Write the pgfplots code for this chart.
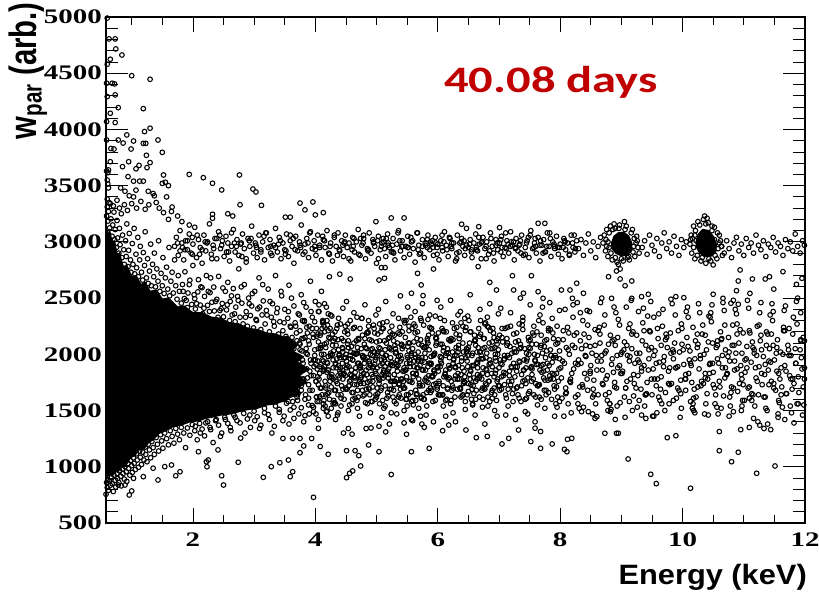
\documentclass[border=0pt]{standalone}
\usepackage{graphicx}
\usepackage{fontspec}
\setmainfont{Liberation Serif}
\newfontfamily\tickfont{Liberation Serif}[FakeStretch=1.4]
\newfontfamily\labfont{Liberation Sans}[FakeStretch=1.1]
\newfontfamily\ylabfont{Liberation Sans}
\newfontfamily\daysfont{Carlito}[FakeStretch=1.3]
\usepackage{pgfplots}
\pgfplotsset{compat=1.18}
\definecolor{dred}{HTML}{C00000}
\pgfplotsset{pts/.style={only marks, mark=o, mark size=1.75pt, mark options={line width=0.8pt, draw=black, fill=none}, forget plot}}
\begin{document}
\begin{tikzpicture}
\begin{axis}[
  scale only axis, width=524.25pt, height=379.5pt,
  xmin=0.58, xmax=12, ymin=500, ymax=5000,
  xtick={2,4,6,8,10,12}, minor xtick={1,1.5,...,11.5},
  ytick=\empty,
  tick align=inside, tick pos=both,
  major tick length=11.25pt, minor tick length=5.8pt,
  every tick/.style={black, line width=0.6pt},
  axis line style={line width=0.8pt},
  /pgf/number format/assume math mode=true,
  /pgf/number format/1000 sep={},
  scaled ticks=false,
  xticklabel style={font=\tickfont\bfseries\fontsize{15.5}{15.5}\selectfont, anchor=center, yshift=-12.75pt},
  xlabel={\labfont\bfseries\fontsize{21}{21}\selectfont Energy (keV)},
  xlabel style={at={(axis description cs:1.003,-0.107)}, anchor=east, inner sep=0pt},
  clip=true,
]
% dense core (fully overlapping markers)
\addplot[fill=black, draw=black, line width=1pt, forget plot] coordinates {(0.58,3150)(0.61,3060)(0.64,3100)(0.68,2990)(0.72,3010)(0.76,2880)(0.80,2900)(0.86,2780)(0.92,2790)(1.0,2690)(1.07,2700)(1.15,2620)(1.22,2640)(1.3,2560)(1.4,2570)(1.5,2490)(1.6,2500)(1.75,2420)(1.85,2430)(2.0,2370)(2.15,2370)(2.3,2330)(2.45,2320)(2.6,2280)(2.75,2270)(2.9,2230)(3.05,2220)(3.2,2190)(3.35,2180)(3.5,2150)(3.62,2130)(3.7,2080)(3.62,2030)(3.8,1980)(3.7,1930)(3.88,1870)(3.74,1810)(3.86,1750)(3.7,1700)(3.76,1650)(3.6,1620)(3.5,1590)(3.35,1560)(3.2,1550)(3.05,1520)(2.9,1510)(2.75,1490)(2.6,1470)(2.45,1460)(2.3,1440)(2.2,1430)(2.1,1410)(1.95,1400)(1.8,1370)(1.68,1360)(1.55,1320)(1.45,1300)(1.35,1240)(1.28,1220)(1.2,1160)(1.12,1150)(1.05,1100)(0.98,1080)(0.9,1010)(0.84,1000)(0.78,960)(0.72,950)(0.68,920)(0.63,925)(0.58,900)(0.58,3150)};
% clusters
\addplot[fill=black, draw=black, line width=1pt, forget plot] coordinates {(8.84,2990)(8.88,3050)(8.95,3080)(9.04,3085)(9.12,3050)(9.17,2990)(9.16,2920)(9.10,2885)(9.00,2875)(8.91,2900)(8.85,2940)(8.84,2990)};
\addplot[fill=black, draw=black, line width=1pt, forget plot] coordinates {(10.22,3000)(10.26,3070)(10.33,3110)(10.42,3100)(10.50,3050)(10.55,2980)(10.54,2910)(10.47,2875)(10.37,2870)(10.28,2900)(10.23,2950)(10.22,3000)};
% top-left sparse
\addplot[pts] coordinates {(0.60,4990)(0.63,4805)(0.73,4805)(0.74,4716)(0.84,4662)(0.65,4624)(0.60,4580)(1.00,4478)(1.30,4446)(0.59,4411)(0.68,4411)(0.72,4405)(0.60,4292)(0.73,4307)(0.78,4194)(1.19,4185)(0.65,4144)(0.59,4070)(0.73,4061)(1.21,3981)(1.30,4011)(0.92,3951)(0.59,3906)(0.78,3906)(1.03,3897)(1.43,3906)(0.86,3879)(1.19,3876)(1.23,3876)(0.66,3830)(0.71,3826)(0.99,3826)(1.50,3796)(1.24,3770)(0.65,3713)(0.85,3669)(0.95,3713)(1.30,3705)(0.59,3630)(0.62,3640)(0.61,3615)(1.07,3650)(1.12,3680)(1.25,3660)(1.52,3595)(1.94,3600)(2.17,3571)(2.32,3521)(2.47,3462)(2.76,3595)(2.98,3470)(3.03,3444)(0.60,3550)(0.61,3515)(0.62,3480)(0.94,3580)(1.03,3540)(1.07,3460)(1.13,3540)(1.19,3540)(1.50,3520)(1.55,3530)(1.60,3500)(0.82,3480)(0.89,3450)(0.96,3410)(1.03,3400)(1.27,3450)(1.35,3430)(1.37,3410)(1.57,3400)(1.66,3310)(1.65,3270)(1.94,3150)(2.77,3330)(3.12,3325)(3.75,3345)(3.83,3285)(3.96,3355)(3.51,3220)(3.59,3220)(4.00,3240)(4.13,3260)(2.32,3245)(2.32,3210)(2.57,3250)(2.65,3230)(0.60,3380)(0.63,3350)(0.70,3320)(0.76,3370)(0.80,3300)(0.88,3330)(0.93,3280)(1.00,3340)(1.08,3300)(1.15,3360)(1.22,3290)(1.28,3330)(1.40,3350)(1.45,3300)(1.52,3260)(1.75,3230)(1.60,3200)(1.82,3180)};
% upper fringe of core
\addplot[pts] coordinates {(0.59,3230)(0.60,3310)(0.61,3185)(0.62,3270)(0.64,3125)(0.65,3340)(0.66,3205)(0.68,3050)(0.69,3150)(0.71,3265)(0.72,3020)(0.73,3110)(0.75,2950)(0.76,3190)(0.77,3035)(0.79,2900)(0.80,3120)(0.81,2975)(0.83,3250)(0.84,2860)(0.85,3060)(0.87,2930)(0.88,2800)(0.90,3010)(0.91,2870)(0.92,3160)(0.94,2780)(0.95,2925)(0.96,3075)(0.98,2840)(0.99,2730)(1.01,2985)(1.02,2800)(1.04,3120)(1.05,2715)(1.07,2890)(1.08,2770)(1.10,3040)(1.11,2690)(1.13,2840)(1.14,2960)(1.16,2730)(1.18,2660)(1.19,2905)(1.21,2790)(1.22,3090)(1.24,2680)(1.26,2850)(1.27,2630)(1.29,2740)(1.31,2980)(1.32,2610)(1.34,2800)(1.36,2690)(1.37,2900)(1.39,2600)(1.41,2760)(1.43,2650)(1.44,3010)(1.46,2560)(1.48,2720)(1.50,2610)(1.51,2860)(1.53,2540)(1.55,2680)(1.57,2775)(1.59,2580)(1.61,2950)(1.62,2520)(1.64,2650)(1.66,2730)(1.68,2545)(1.70,2840)(1.72,2610)(1.74,2490)(1.76,2700)(1.78,2560)(1.79,2920)
(1.81,2455)(1.83,2621)(1.86,2496)(1.87,2734)(1.91,2416)(1.92,2545)(1.95,2659)(1.98,2444)(2.00,2790)(2.03,2495)(2.04,2403)(2.08,2555)(2.09,2664)(2.12,2438)(2.15,2593)(2.16,2361)(2.19,2515)(2.22,2700)(2.24,2436)(2.27,2381)(2.28,2549)(2.31,2463)(2.34,2598)(2.35,2386)(2.39,2489)(2.41,2330)(2.42,2693)(2.46,2406)(2.48,2452)(2.50,2334)(2.53,2560)(2.55,2395)(2.57,2640)(2.60,2300)(2.61,2470)(2.64,2350)(2.66,2585)(2.69,2290)(2.70,2420)(2.73,2515)(2.75,2760)(2.77,2330)(2.80,2455)(2.82,2270)(2.84,2620)(2.87,2380)(2.89,2250)(2.91,2500)(2.94,2345)(2.96,2430)(2.99,2235)(3.01,2560)(3.03,2310)(3.06,2405)(3.08,2680)(3.11,2220)(3.13,2350)(3.15,2475)(3.18,2270)(3.20,2390)(3.23,2580)(3.25,2200)(3.28,2330)(3.30,2450)(3.33,2250)(3.35,2700)(3.37,2370)(3.40,2180)(3.42,2290)(3.45,2520)(3.47,2210)(3.50,2400)(3.52,2160)(3.55,2320)(3.57,2615)(3.60,2240)(3.62,2150)(3.65,2430)(3.67,2280)(3.70,2120)(3.72,2360)(3.75,2210)(3.77,2530)(3.80,2140)(3.82,2290)(3.85,2420)(3.87,2190)(3.90,2250)(3.92,2650)(3.95,2330)(3.97,2150)(4.00,2470)(4.02,2230)(4.05,2380)(4.08,2170)(4.10,2560)(4.12,2300)(4.15,2200)(4.18,2420)(4.20,2260)(4.23,2690)(4.25,2350)(4.28,2180)
(1.84,2560)(1.89,2480)(1.94,2620)(2.02,2530)(2.06,2450)(2.13,2600)(2.18,2410)(2.25,2560)(2.29,2680)(2.37,2470)(2.44,2390)(2.49,2590)(2.56,2440)(2.63,2520)(2.68,2360)(2.74,2480)(2.79,2600)(2.86,2330)(2.92,2450)(2.97,2540)(3.04,2300)(3.09,2420)(3.14,2620)(3.21,2350)(3.26,2470)(3.32,2290)(3.38,2410)(3.44,2560)(3.49,2280)(3.56,2380)(3.61,2500)(3.68,2250)(3.74,2350)(3.81,2460)(3.86,2240)(3.93,2380)(3.99,2290)(4.06,2440)(4.14,2250)(4.21,2360)};
% lower fringe of core
\addplot[pts] coordinates {(0.59,860)(0.60,815)(0.61,885)(0.62,790)(0.64,870)(0.65,835)(0.67,905)(0.68,850)(0.70,780)(0.71,925)(0.73,880)(0.74,820)(0.76,940)(0.77,895)(0.79,860)(0.80,965)(0.82,915)(0.83,830)(0.85,980)(0.86,940)(0.88,890)(0.89,1000)(0.91,955)(0.92,870)(0.94,1030)(0.95,985)(0.97,925)(0.98,1055)(1.00,1010)(1.01,950)(1.03,1080)(1.04,1030)(1.06,975)(1.08,1115)(1.09,1060)(1.11,995)(1.13,1140)(1.14,1085)(1.16,1020)(1.18,1130)(1.20,1060)(1.22,1175)(1.23,1110)(1.25,1045)(1.27,1200)(1.29,1150)(1.31,1080)(1.33,1225)(1.35,1170)(1.37,1110)(1.40,1260)(1.42,1200)(1.44,1140)(1.47,1285)(1.49,1230)(1.51,1165)(1.54,1300)(1.57,1250)(1.60,1195)(1.63,1320)(1.66,1270)(1.69,1210)(1.72,1340)(1.75,1290)(1.78,1240)(1.81,1350)(1.85,1300)(1.88,1170)(1.91,1345)(1.95,1280)(1.99,1375)(2.03,1320)(2.07,1240)(2.11,1385)(2.15,1335)(2.19,1275)(2.24,1400)(2.28,1350)(2.33,1215)(2.38,1420)(2.42,1370)(2.47,1300)(2.52,1440)(2.57,1385)(2.62,1320)(2.67,1460)(2.72,1410)(2.78,1255)(2.83,1475)(2.89,1425)(2.94,1350)(3.00,1495)(3.05,1445)(3.11,1370)(3.17,1520)(3.23,1465)(3.29,1300)(3.35,1540)(3.41,1485)(3.47,1410)(3.53,1565)(3.59,1505)(3.65,1430)(3.71,1590)(3.77,1525)(3.83,1455)(3.89,1610)(3.95,1545)(4.01,1470)(4.07,1625)(4.13,1560)(4.19,1495)
(2.04,1360)(2.12,1300)(2.21,1390)(2.29,1330)(2.37,1410)(2.45,1270)(2.53,1420)(2.61,1350)(2.69,1440)(2.77,1390)(2.85,1300)(2.93,1460)(3.01,1410)(3.09,1340)(3.17,1480)(3.25,1420)(3.33,1360)(3.41,1510)(3.49,1450)(3.57,1380)(3.65,1530)(3.73,1470)(3.81,1400)(3.89,1550)(3.97,1490)(4.05,1420)(4.13,1520)(4.21,1450)(4.29,1560)(4.37,1480)};
% dense region 3-3.8
\addplot[pts] coordinates {(3.02,1620)(3.05,2080)(3.08,1750)(3.10,1950)(3.13,1580)(3.16,2150)(3.18,1830)(3.21,1680)(3.24,2020)(3.26,1900)(3.29,1600)(3.31,2110)(3.34,1760)(3.37,1980)(3.39,1650)(3.42,2060)(3.45,1840)(3.47,1600)(3.50,2130)(3.52,1920)(3.55,1700)(3.58,2010)(3.60,1790)(3.63,1660)(3.65,2090)(3.68,1880)(3.70,1620)(3.73,1970)(3.76,1750)(3.78,2140)(3.06,1870)(3.12,1700)(3.19,2000)(3.27,1760)(3.33,1880)(3.40,1720)(3.46,1990)(3.53,1810)(3.59,1900)(3.66,1740)(3.72,1840)(3.79,1950)(3.03,1780)(3.23,1810)(3.43,1930)(3.63,1860)(3.15,1950)(3.35,1640)(3.56,1580)(3.75,2040)};
% main band 3.7-5
\addplot[pts] coordinates {(3.71,1720)(3.72,1980)(3.74,2100)(3.75,1850)(3.77,1680)(3.78,2030)(3.80,1920)(3.81,1780)(3.83,2150)(3.84,1640)(3.86,1870)(3.87,2000)(3.89,1730)(3.90,2090)(3.92,1950)(3.93,1810)(3.95,1680)(3.96,2180)(3.98,1890)(3.99,2040)(4.01,1760)(4.02,1620)(4.04,1940)(4.05,2110)(4.07,1830)(4.08,1700)(4.10,2000)(4.11,2230)(4.13,1870)(4.14,1590)(4.16,1760)(4.17,2060)(4.19,1930)(4.20,1650)(4.22,2150)(4.23,1800)(4.25,1990)(4.26,1710)(4.28,2080)(4.29,1880)(4.31,1570)(4.32,2200)(4.34,1760)(4.35,1960)(4.37,1640)(4.38,2040)(4.40,1850)(4.41,2270)(4.43,1720)(4.44,1920)(4.46,2120)(4.47,1600)(4.49,1810)(4.50,2000)(4.52,1690)(4.53,2180)(4.55,1890)(4.56,1550)(4.58,1770)(4.59,2070)(4.61,1950)(4.62,1660)(4.64,2240)(4.65,1840)(4.67,2010)(4.68,1730)(4.70,1620)(4.71,2130)(4.73,1900)(4.74,1790)(4.76,2320)(4.77,1680)(4.79,1980)(4.80,2090)(4.82,1570)(4.83,1860)(4.85,1750)(4.86,2190)(4.88,1940)(4.89,1640)(4.91,2040)(4.92,1820)(4.94,1710)(4.95,2260)(4.97,1910)(4.98,1600)(5.00,2110)
(3.82,2300)(3.97,1530)(4.06,2380)(4.18,1490)(4.27,2340)(4.36,1460)(4.45,2410)(4.54,1500)(4.63,2370)(4.72,1450)(4.81,2440)(4.90,1480)(4.99,2350)(4.15,2450)(4.33,1420)(4.51,2470)(4.69,1520)(4.87,2300)(3.90,1470)(4.42,1540)
(3.74,1900)(3.79,1780)(3.85,2050)(3.91,1850)(3.97,1950)(4.03,1870)(4.09,2060)(4.15,1890)(4.21,1980)(4.27,1820)(4.33,1910)(4.39,2000)(4.45,1780)(4.51,1880)(4.57,1960)(4.63,1800)(4.69,1920)(4.75,1850)(4.81,1960)(4.87,1880)(4.93,1990)(4.99,1830)
(4.02,2160)(4.06,1580)(4.11,1950)(4.13,2290)(4.17,1700)(4.21,1860)(4.24,2140)(4.26,1520)(4.30,2030)(4.33,1680)(4.36,2260)(4.38,1900)(4.42,1610)(4.45,2050)(4.47,1830)(4.52,2210)(4.55,1720)(4.57,1990)(4.60,1560)(4.63,2100)(4.66,1880)(4.68,2330)(4.72,1760)(4.75,2050)(4.78,1630)(4.80,1920)(4.84,2190)(4.87,1700)(4.90,2000)(4.93,1580)(4.96,2230)(4.98,1850)};
% main band 5-8
\addplot[pts] coordinates {(5.01,1880)(5.02,1650)(5.04,2060)(5.05,1770)(5.07,2200)(5.08,1950)(5.10,1590)(5.11,1840)(5.13,2120)(5.14,1720)(5.16,1990)(5.17,2290)(5.19,1630)(5.20,1870)(5.22,2050)(5.23,1760)(5.25,1930)(5.26,2180)(5.28,1680)(5.29,1820)(5.31,2010)(5.32,1560)(5.34,2100)(5.35,1900)(5.37,1740)(5.38,2240)(5.40,1610)(5.41,1960)(5.43,1850)(5.44,2070)(5.46,1700)(5.47,2150)(5.49,1800)(5.50,1990)(5.52,1640)(5.53,2030)(5.55,1890)(5.56,2330)(5.58,1750)(5.59,1590)(5.61,2110)(5.62,1940)(5.64,1680)(5.65,1830)(5.67,2200)(5.68,2020)(5.70,1720)(5.71,1900)(5.73,1620)(5.74,2080)(5.76,1860)(5.77,2260)(5.79,1770)(5.80,1970)(5.82,1660)(5.83,2140)(5.85,1810)(5.86,2040)(5.88,1700)(5.89,1920)(5.91,2190)(5.92,1580)(5.94,1850)(5.95,2010)(5.97,1740)(5.98,2100)(6.00,1890)
(5.03,2400)(5.09,1440)(5.15,2470)(5.21,1380)(5.27,2360)(5.33,1470)(5.39,2520)(5.45,1500)(5.51,2420)(5.57,1420)(5.63,2380)(5.69,1520)(5.75,2450)(5.81,1460)(5.87,2350)(5.93,1400)(5.99,2480)(5.12,1520)(5.36,2320)(5.60,1550)(5.84,2310)(5.24,1480)(5.48,2300)(5.72,1450)(5.96,2340)
(5.06,1900)(5.12,1970)(5.18,1850)(5.30,1920)(5.42,1780)(5.54,1950)(5.66,1880)(5.78,1930)(5.90,1800)
(5.02,1990)(5.05,1560)(5.09,2230)(5.11,1790)(5.14,2040)(5.18,1660)(5.21,2150)(5.23,1910)(5.27,1620)(5.30,2080)(5.33,1780)(5.36,1980)(5.39,1690)(5.42,2200)(5.45,1880)(5.48,1600)(5.51,2070)(5.53,1760)(5.57,2010)(5.60,1830)(5.63,2250)(5.66,1650)(5.69,1970)(5.72,2130)(5.75,1720)(5.78,1600)(5.81,2070)(5.84,1890)(5.87,2240)(5.90,1680)(5.93,1990)(5.97,2150)
(6.02,1760)(6.04,2090)(6.06,1920)(6.08,1640)(6.10,2200)(6.12,1830)(6.14,2010)(6.16,1700)(6.18,2130)(6.20,1880)(6.22,1590)(6.24,2280)(6.26,1960)(6.28,1780)(6.30,2060)(6.32,1690)(6.34,1900)(6.36,2170)(6.38,1820)(6.40,1630)(6.42,2020)(6.44,1750)(6.46,2240)(6.48,1940)(6.50,1670)(6.52,2100)(6.54,1850)(6.56,1990)(6.58,1720)(6.60,2170)(6.62,1600)(6.64,1930)(6.66,2060)(6.68,1790)(6.70,2300)(6.72,1680)(6.74,1880)(6.76,2140)(6.78,1740)(6.80,2010)(6.82,1620)(6.84,1910)(6.86,2210)(6.88,1830)(6.90,2050)(6.92,1700)(6.94,1970)(6.96,2120)(6.98,1780)(7.00,1880)
(6.05,2420)(6.13,1450)(6.21,2480)(6.29,1400)(6.37,2380)(6.45,1510)(6.53,2530)(6.61,1460)(6.69,2400)(6.77,1380)(6.85,2450)(6.93,1500)(6.99,2360)(6.09,1540)(6.33,2350)(6.57,1550)(6.81,2330)(6.25,1480)(6.49,2340)(6.73,1530)(6.97,1450)
(6.01,1640)(6.04,1980)(6.07,2230)(6.10,1800)(6.13,1590)(6.16,2050)(6.19,1870)(6.22,2140)(6.25,1700)(6.28,1990)(6.31,2240)(6.35,1780)(6.38,1620)(6.41,2100)(6.43,1850)(6.47,2020)(6.50,1740)(6.53,2200)(6.56,1900)(6.59,1650)(6.62,2080)(6.65,1820)(6.68,2160)(6.71,1960)(6.74,1600)(6.77,2060)(6.80,1730)(6.83,2240)(6.86,1920)(6.89,1680)(6.92,2150)(6.95,1860)(6.98,2000)
(7.02,1950)(7.04,1690)(7.06,2110)(7.08,1840)(7.10,2230)(7.12,1610)(7.14,1990)(7.16,1760)(7.18,2070)(7.20,1890)(7.22,1650)(7.24,2180)(7.26,1800)(7.28,2020)(7.30,1710)(7.32,2120)(7.34,1930)(7.36,1580)(7.38,2260)(7.40,1860)(7.42,2050)(7.44,1740)(7.46,1960)(7.48,2150)(7.50,1670)(7.52,1880)(7.54,2090)(7.56,1780)(7.58,2000)(7.60,1620)(7.62,2200)(7.64,1910)(7.66,1730)(7.68,2060)(7.70,1840)(7.72,2280)(7.74,1680)(7.76,1970)(7.78,2130)(7.80,1770)(7.82,1900)(7.84,2040)(7.86,1600)(7.88,2190)(7.90,1820)(7.92,1990)(7.94,1710)(7.96,2100)(7.98,1870)
(7.03,2410)(7.11,1460)(7.19,2370)(7.27,1420)(7.35,2500)(7.43,1490)(7.51,2440)(7.59,1400)(7.67,2350)(7.75,1520)(7.83,2460)(7.91,1450)(7.99,2390)(7.15,1540)(7.39,2330)(7.63,1550)(7.87,2320)(7.47,1470)(7.71,2420)(7.95,1530)
(7.01,1720)(7.05,2150)(7.08,1950)(7.11,1640)(7.14,2240)(7.17,1810)(7.21,2010)(7.24,1690)(7.27,2110)(7.30,1890)(7.33,1610)(7.36,2060)(7.39,2220)(7.42,1770)(7.45,1940)(7.48,1650)(7.51,2130)(7.54,1870)(7.57,2250)(7.60,1740)(7.63,1990)(7.66,1620)(7.69,2170)(7.72,1910)(7.75,1770)(7.78,2030)(7.81,1660)(7.84,2220)(7.87,1930)(7.90,1720)(7.93,2090)(7.96,1620)(7.99,1960)};
% extra density 4-8
\addplot[pts] coordinates {(4.04,1800)(4.09,1910)(4.14,2000)(4.19,1840)(4.24,1760)(4.29,1950)(4.34,2080)(4.39,1790)(4.44,1860)(4.49,1970)(4.54,2060)(4.59,1810)(4.64,1730)(4.69,2010)(4.74,1880)(4.79,1740)(4.84,2050)(4.89,1920)(4.94,1800)(4.99,1970)(5.04,1740)(5.09,2010)(5.14,1890)(5.19,1790)(5.24,2040)(5.29,1730)(5.34,1850)(5.39,1990)(5.44,1760)(5.49,1920)(5.54,2100)(5.59,1830)(5.64,1970)(5.69,1780)(5.74,1940)(5.79,2060)(5.84,1750)(5.89,1980)(5.94,1860)(5.99,1710)(6.04,1890)(6.09,2030)(6.14,1800)(6.19,1970)(6.24,1720)(6.29,1890)(6.34,2080)(6.39,1940)(6.44,1800)(6.49,2040)(6.54,1730)(6.59,1900)(6.64,1780)(6.69,2020)(6.74,1960)(6.79,1870)(6.84,1760)(6.89,2110)(6.94,1830)(6.99,2040)(7.04,1800)(7.09,1960)(7.14,2100)(7.19,1730)(7.24,1920)(7.29,1850)(7.34,2050)(7.39,1760)(7.44,1880)(7.49,2000)(7.54,1820)(7.59,1950)(7.64,1720)(7.69,1900)(7.74,2070)(7.79,1860)(7.84,1780)(7.89,1970)(7.94,1830)(7.99,2030)
(4.01,1910)(4.05,1730)(4.09,2080)(4.13,1850)(4.17,1640)(4.21,2210)(4.25,1990)(4.29,1780)(4.33,1560)(4.37,2130)(4.41,1880)(4.45,2020)(4.49,1700)(4.53,2270)(4.57,1820)(4.61,1950)(4.65,1610)(4.69,2060)(4.73,1760)(4.77,2170)(4.81,1780)(4.85,1560)(4.89,2130)(4.93,1880)(4.97,2020)(5.01,1700)(5.05,2270)(5.09,1820)(5.13,1950)(5.17,1610)(5.21,2060)(5.25,1760)(5.29,2170)(5.33,1910)(5.37,1730)(5.41,2080)(5.45,1850)(5.49,1640)(5.53,2210)(5.57,1990)(5.61,2270)(5.65,1820)(5.69,1950)(5.73,1610)(5.77,2060)(5.81,1760)(5.85,2170)(5.89,1910)(5.93,1730)(5.97,2080)(6.01,1850)(6.05,1640)(6.09,2210)(6.13,1990)(6.17,1780)(6.21,1560)(6.25,2130)(6.29,1880)(6.33,2020)(6.37,1700)(6.41,1640)(6.45,2210)(6.49,1990)(6.53,1780)(6.57,1560)(6.61,2130)(6.65,1880)(6.69,2020)(6.73,1700)(6.77,2270)(6.81,1820)(6.85,1950)(6.89,1610)(6.93,2060)(6.97,1760)(7.01,2170)(7.05,1910)(7.09,1730)(7.13,2080)(7.17,1850)(7.21,1880)(7.25,2020)(7.29,1700)(7.33,2270)(7.37,1820)(7.41,1950)(7.45,1610)(7.49,2060)(7.53,1760)(7.57,2170)(7.61,1910)(7.65,1730)(7.69,2080)(7.73,1850)(7.77,1640)(7.81,2210)(7.85,1990)(7.89,1780)(7.93,1560)(7.97,2130)};
% further density 3.5-8
\addplot[pts] coordinates {(3.51,1830)(3.53,2140)(3.55,1690)(3.57,1970)(3.59,2250)(3.61,1760)(3.63,1580)(3.65,2050)(3.67,1890)(3.69,2190)(3.71,1640)(3.73,1940)(3.75,2090)(3.77,1720)(3.79,2300)(3.81,1860)(3.83,1600)(3.85,2010)(3.87,1790)(3.89,2120)(3.91,1680)(3.93,1920)(3.95,2230)(3.97,1810)(3.99,1990)
(4.01,1760)(4.03,1580)(4.05,2050)(4.07,1890)(4.09,2190)(4.11,1640)(4.13,1940)(4.15,2090)(4.17,1720)(4.19,2300)(4.21,1860)(4.23,1600)(4.25,2010)(4.27,1790)(4.29,2120)(4.31,1680)(4.33,1920)(4.35,2230)(4.37,1810)(4.39,1990)(4.41,1830)(4.43,2140)(4.45,1690)(4.47,1970)(4.49,2250)
(4.51,1940)(4.53,2090)(4.55,1720)(4.57,2300)(4.59,1860)(4.61,1600)(4.63,2010)(4.65,1790)(4.67,2120)(4.69,1680)(4.71,1920)(4.73,2230)(4.75,1810)(4.77,1990)(4.79,1830)(4.81,2140)(4.83,1690)(4.85,1970)(4.87,2250)(4.89,1760)(4.91,1580)(4.93,2050)(4.95,1890)(4.97,2190)(4.99,1640)
(5.01,2010)(5.03,1790)(5.05,2120)(5.07,1680)(5.09,1920)(5.11,2230)(5.13,1810)(5.15,1990)(5.17,1830)(5.19,2140)(5.21,1690)(5.23,1970)(5.25,2250)(5.27,1760)(5.29,1580)(5.31,2050)(5.33,1890)(5.35,2190)(5.37,1640)(5.39,1940)(5.41,2090)(5.43,1720)(5.45,2300)(5.47,1860)(5.49,1600)
(5.51,1970)(5.53,2250)(5.55,1760)(5.57,1580)(5.59,2050)(5.61,1890)(5.63,2190)(5.65,1640)(5.67,1940)(5.69,2090)(5.71,1720)(5.73,2300)(5.75,1860)(5.77,1600)(5.79,2010)(5.81,1790)(5.83,2120)(5.85,1680)(5.87,1920)(5.89,2230)(5.91,1810)(5.93,1990)(5.95,1830)(5.97,2140)(5.99,1690)
(6.01,2190)(6.03,1640)(6.05,1940)(6.07,2090)(6.09,1720)(6.11,2300)(6.13,1860)(6.15,1600)(6.17,2010)(6.19,1790)(6.21,2120)(6.23,1680)(6.25,1920)(6.27,2230)(6.29,1810)(6.31,1990)(6.33,1830)(6.35,2140)(6.37,1690)(6.39,1970)(6.41,2250)(6.43,1760)(6.45,1580)(6.47,2050)(6.49,1890)
(6.51,2300)(6.53,1860)(6.55,1600)(6.57,2010)(6.59,1790)(6.61,2120)(6.63,1680)(6.65,1920)(6.67,2230)(6.69,1810)(6.71,1990)(6.73,1830)(6.75,2140)(6.77,1690)(6.79,1970)(6.81,2250)(6.83,1760)(6.85,1580)(6.87,2050)(6.89,1890)(6.91,2190)(6.93,1640)(6.95,1940)(6.97,2090)(6.99,1720)
(7.01,1680)(7.03,1920)(7.05,2230)(7.07,1810)(7.09,1990)(7.11,1830)(7.13,2140)(7.15,1690)(7.17,1970)(7.19,2250)(7.21,1760)(7.23,1580)(7.25,2050)(7.27,1890)(7.29,2190)(7.31,1640)(7.33,1940)(7.35,2090)(7.37,1720)(7.39,2300)(7.41,1860)(7.43,1600)(7.45,2010)(7.47,1790)(7.49,2120)
(7.51,2050)(7.53,1890)(7.55,2190)(7.57,1640)(7.59,1940)(7.61,2090)(7.63,1720)(7.65,2300)(7.67,1860)(7.69,1600)(7.71,2010)(7.73,1790)(7.75,2120)(7.77,1680)(7.79,1920)(7.81,2230)(7.83,1810)(7.85,1990)(7.87,1830)(7.89,2140)(7.91,1690)(7.93,1970)(7.95,2250)(7.97,1760)(7.99,1580)};
% more density 4-7
\addplot[pts] coordinates {(4.00,1950)(4.02,1620)(4.04,2180)(4.06,1780)(4.08,2050)(4.10,1700)(4.12,2280)(4.14,1860)(4.16,1540)(4.18,2100)(4.20,1920)(4.22,1660)(4.24,2230)(4.26,1800)(4.28,2000)(4.30,1590)(4.32,2140)(4.34,1880)(4.36,1740)(4.38,2320)(4.40,1970)(4.42,1640)(4.44,2060)(4.46,1820)(4.48,2200)(4.50,1690)(4.52,1900)(4.54,2120)(4.56,1760)(4.58,2020)
(4.60,1660)(4.62,2230)(4.64,1800)(4.66,2000)(4.68,1590)(4.70,2140)(4.72,1880)(4.74,1740)(4.76,2320)(4.78,1970)(4.80,1640)(4.82,2060)(4.84,1820)(4.86,2200)(4.88,1690)(4.90,1900)(4.92,2120)(4.94,1760)(4.96,2020)(4.98,1950)(5.00,1620)(5.02,2180)(5.04,1780)(5.06,2050)(5.08,1700)(5.10,2280)(5.12,1860)(5.14,1540)(5.16,2100)(5.18,1920)
(5.20,1820)(5.22,2200)(5.24,1690)(5.26,1900)(5.28,2120)(5.30,1760)(5.32,2020)(5.34,1950)(5.36,1620)(5.38,2180)(5.40,1780)(5.42,2050)(5.44,1700)(5.46,2280)(5.48,1860)(5.50,1540)(5.52,2100)(5.54,1920)(5.56,1660)(5.58,2230)(5.60,1800)(5.62,2000)(5.64,1590)(5.66,2140)(5.68,1880)(5.70,1740)(5.72,2320)(5.74,1970)(5.76,1640)(5.78,2060)
(5.80,1860)(5.82,1540)(5.84,2100)(5.86,1920)(5.88,1660)(5.90,2230)(5.92,1800)(5.94,2000)(5.96,1590)(5.98,2140)(6.00,1880)(6.02,1740)(6.04,2320)(6.06,1970)(6.08,1640)(6.10,2060)(6.12,1820)(6.14,2200)(6.16,1690)(6.18,1900)(6.20,2120)(6.22,1760)(6.24,2020)(6.26,1950)(6.28,1620)(6.30,2180)(6.32,1780)(6.34,2050)(6.36,1700)(6.38,2280)
(6.40,1880)(6.42,1740)(6.44,2320)(6.46,1970)(6.48,1640)(6.50,2060)(6.52,1820)(6.54,2200)(6.56,1690)(6.58,1900)(6.60,2120)(6.62,1760)(6.64,2020)(6.66,1950)(6.68,1620)(6.70,2180)(6.72,1780)(6.74,2050)(6.76,1700)(6.78,2280)(6.80,1860)(6.82,1540)(6.84,2100)(6.86,1920)(6.88,1660)(6.90,2230)(6.92,1800)(6.94,2000)(6.96,1590)(6.98,2140)};
% main band 8-12
\addplot[pts] coordinates {(8.02,1790)(8.05,2130)(8.07,1920)(8.10,1660)(8.12,2240)(8.15,2000)(8.17,1750)(8.20,2080)(8.22,1870)(8.25,1620)(8.27,2190)(8.30,1950)(8.32,1710)(8.35,2050)(8.37,2300)(8.40,1830)(8.42,1980)(8.45,1680)(8.47,2150)(8.50,1900)(8.52,2010)(8.55,1770)(8.57,2220)(8.60,1860)(8.62,1640)(8.65,2100)(8.67,1940)(8.70,1730)(8.72,2260)(8.75,2030)(8.77,1810)(8.80,1660)(8.82,2170)(8.85,1960)(8.87,1840)(8.90,2080)(8.92,1700)(8.95,2310)(8.97,1900)(8.99,2000)
(8.08,2400)(8.18,1480)(8.28,2460)(8.38,1530)(8.48,2380)(8.58,1560)(8.68,2500)(8.78,1500)(8.88,2420)(8.98,1570)(8.13,1560)(8.33,2370)(8.53,1470)(8.73,2350)(8.93,1540)
(9.02,1850)(9.05,2110)(9.07,1700)(9.10,1990)(9.12,2230)(9.15,1780)(9.17,2050)(9.20,1630)(9.22,1920)(9.25,2170)(9.27,1810)(9.30,2010)(9.32,1690)(9.35,2280)(9.37,1900)(9.40,2080)(9.42,1750)(9.45,1960)(9.47,2200)(9.50,1640)(9.52,1870)(9.55,2030)(9.57,1720)(9.60,2140)(9.62,1930)(9.65,1800)(9.67,2250)(9.70,1980)(9.72,1660)(9.75,2060)(9.77,1850)(9.80,2190)(9.82,1740)(9.85,1960)(9.87,2100)(9.90,1610)(9.92,1890)(9.95,2020)(9.97,1770)(9.99,2230)
(9.08,2420)(9.18,1500)(9.28,2380)(9.38,1540)(9.48,2470)(9.58,1480)(9.68,2400)(9.78,1560)(9.88,2350)(9.98,1520)(9.13,1580)(9.43,2340)(9.63,1590)(9.83,2450)(9.33,1460)
(10.02,1910)(10.05,1680)(10.07,2150)(10.10,1830)(10.12,2030)(10.15,1750)(10.17,2240)(10.20,1960)(10.22,1620)(10.25,2090)(10.27,1870)(10.30,1720)(10.32,2180)(10.35,2000)(10.37,1790)(10.40,1650)(10.42,2110)(10.45,1920)(10.47,2290)(10.50,1840)(10.52,1700)(10.55,2060)(10.57,1960)(10.60,1760)(10.62,2200)(10.65,1880)(10.67,1630)(10.70,2040)(10.72,1820)(10.75,2150)(10.77,1940)(10.80,1710)(10.82,2260)(10.85,1860)(10.87,2010)(10.90,1670)(10.92,2100)(10.95,1900)(10.97,1780)(10.99,2190)
(10.08,2420)(10.18,1500)(10.28,2370)(10.38,1560)(10.48,2440)(10.58,1470)(10.68,2390)(10.78,1540)(10.88,2360)(10.98,1590)(10.13,1580)(10.43,2340)(10.63,1520)(10.83,2480)
(11.02,1840)(11.05,2070)(11.07,1700)(11.10,2190)(11.12,1930)(11.15,1640)(11.17,2010)(11.20,1790)(11.22,2250)(11.25,1890)(11.27,2120)(11.30,1730)(11.32,1980)(11.35,1620)(11.37,2200)(11.40,1860)(11.42,2050)(11.45,1760)(11.47,2300)(11.50,1950)(11.52,1680)(11.55,2130)(11.57,1830)(11.60,2020)(11.62,1710)(11.65,2240)(11.67,1900)(11.70,1650)(11.72,2080)(11.75,1810)(11.77,1990)(11.80,2180)(11.82,1740)(11.85,1920)(11.87,2270)(11.90,1660)(11.92,2040)(11.95,1870)(11.97,2150)(11.99,1780)
(11.08,2410)(11.18,1540)(11.28,2460)(11.38,1500)(11.48,2380)(11.58,1570)(11.68,2430)(11.78,1480)(11.88,2500)(11.98,1550)(11.13,1590)(11.43,2350)(11.63,1530)(11.93,2370)
(8.04,1940)(8.09,1700)(8.14,2190)(8.19,1830)(8.24,2060)(8.29,1640)(8.34,1920)(8.39,2180)(8.44,1780)(8.49,2070)(8.54,1690)(8.59,1990)(8.64,2240)(8.69,1860)(8.74,1640)(8.79,2090)(8.84,1910)(8.89,1750)(8.94,2150)(8.99,1830)
(9.04,2040)(9.09,1760)(9.14,1980)(9.19,2200)(9.24,1700)(9.29,1930)(9.34,2120)(9.39,1640)(9.44,1860)(9.49,2060)(9.54,1780)(9.59,2230)(9.64,1690)(9.69,1890)(9.74,2150)(9.79,1730)(9.84,2040)(9.89,1880)(9.94,1680)(9.99,2090)
(10.04,1780)(10.09,2070)(10.14,1900)(10.19,1690)(10.24,2180)(10.29,1960)(10.34,1740)(10.39,2040)(10.44,1830)(10.49,2100)(10.54,1640)(10.59,1920)(10.64,2140)(10.69,1790)(10.74,1980)(10.79,1660)(10.84,2080)(10.89,1870)(10.94,2220)(10.99,1730)
(11.04,1960)(11.09,1710)(11.14,2110)(11.19,1880)(11.24,1640)(11.29,2040)(11.34,1820)(11.39,2180)(11.44,1930)(11.49,1700)(11.54,2060)(11.59,1780)(11.64,2000)(11.69,1850)(11.74,2230)(11.79,1690)(11.84,2050)(11.89,1800)(11.94,1970)(11.99,2120)
(8.03,1610)(8.10,2060)(8.16,1760)(8.23,2170)(8.29,1910)(8.36,1730)(8.42,2080)(8.49,1850)(8.55,1640)(8.62,2210)(8.68,1990)(8.75,1780)(8.81,1560)(8.88,2130)(8.94,1880)(9.01,2020)(9.07,1700)(9.14,2270)(9.20,1820)(9.27,1950)(9.33,1850)(9.40,1640)(9.46,2210)(9.53,1990)(9.59,1780)(9.66,1560)(9.72,2130)(9.79,1880)(9.85,2020)(9.92,1700)(9.98,2270)(10.05,1820)(10.11,1950)(10.18,1610)(10.24,2060)(10.31,1760)(10.37,2170)(10.44,1910)(10.50,1730)(10.57,2080)(10.63,2130)(10.70,1880)(10.76,2020)(10.83,1700)(10.89,2270)(10.96,1820)(11.02,1950)(11.09,1610)(11.15,2060)(11.22,1760)(11.28,2170)(11.35,1910)(11.41,1730)(11.48,2080)(11.54,1850)(11.61,1640)(11.67,2210)(11.74,1990)(11.80,1780)(11.87,1560)(11.93,2130)(11.99,1880)
(8.01,1880)(8.05,2210)(8.09,1650)(8.13,2040)(8.17,1780)(8.21,2330)(8.25,1920)(8.29,1560)(8.33,2120)(8.37,1710)(8.41,1990)(8.45,2260)(8.49,1830)(8.53,1620)(8.57,2080)(8.61,1940)(8.65,2180)(8.69,1740)(8.73,2010)(8.77,1590)
(8.81,1560)(8.85,2120)(8.89,1710)(8.93,1990)(8.97,2260)(9.01,1830)(9.05,1620)(9.09,2080)(9.13,1940)(9.17,2180)(9.21,1740)(9.25,2010)(9.29,1590)(9.33,1880)(9.37,2210)(9.41,1650)(9.45,2040)(9.49,1780)(9.53,2330)(9.57,1920)
(9.61,1620)(9.65,2080)(9.69,1940)(9.73,2180)(9.77,1740)(9.81,2010)(9.85,1590)(9.89,1880)(9.93,2210)(9.97,1650)(10.01,2040)(10.05,1780)(10.09,2330)(10.13,1920)(10.17,1560)(10.21,2120)(10.25,1710)(10.29,1990)(10.33,2260)(10.37,1830)
(10.41,1780)(10.45,2330)(10.49,1920)(10.53,1560)(10.57,2120)(10.61,1710)(10.65,1990)(10.69,2260)(10.73,1830)(10.77,1620)(10.81,2080)(10.85,1940)(10.89,2180)(10.93,1740)(10.97,2010)(11.01,1590)(11.05,1880)(11.09,2210)(11.13,1650)(11.17,2040)
(11.21,1990)(11.25,2260)(11.29,1830)(11.33,1620)(11.37,2080)(11.41,1940)(11.45,2180)(11.49,1740)(11.53,2010)(11.57,1590)(11.61,1880)(11.65,2210)(11.69,1650)(11.73,2040)(11.77,1780)(11.81,2330)(11.85,1920)(11.89,1560)(11.93,2120)(11.97,1710)
(8.06,1450)(8.21,2440)(8.31,1520)(8.44,2390)(8.57,1430)(8.66,2460)(8.83,1510)(8.91,2370)(9.06,1440)(9.16,2480)(9.26,1530)(9.36,2410)(9.51,1450)(9.61,2360)(9.71,1500)(9.81,2490)(9.96,1440)(10.06,2380)(10.16,1520)(10.26,2450)(10.36,1470)(10.46,2370)(10.56,1530)(10.66,2460)(10.76,1450)(10.86,2400)(10.96,1500)(11.06,2480)(11.16,1430)(11.26,2370)(11.36,1520)(11.46,2450)(11.56,1470)(11.66,2390)(11.76,1540)(11.86,2470)(11.96,1460)};
% upper band
\addplot[pts] coordinates {(1.70,2960)(1.73,3040)(1.76,2880)(1.79,3100)(1.82,2990)(1.85,2840)(1.88,3010)(1.91,2930)(1.94,3070)(1.97,2900)(2.00,2980)(2.03,3130)(2.06,2860)(2.09,3020)(2.12,2950)(2.15,2810)(2.18,3060)(2.21,2920)(2.24,3000)(2.27,3160)(2.30,2890)(2.33,2970)(2.36,3030)(2.39,2850)(2.42,3090)(2.45,2940)(2.48,3010)(2.51,2870)(2.54,3050)(2.57,2990)(2.60,2830)(2.63,2960)(2.66,3110)(2.69,2910)(2.72,3020)(2.75,2880)(2.78,2980)(2.81,3070)(2.84,2940)(2.87,2820)(2.90,3030)(2.93,2960)(2.96,3140)(2.99,2900)(3.02,2990)(3.05,2860)(3.08,3060)(3.11,2930)(3.14,3000)(3.17,2840)(3.20,3080)(3.23,2950)(3.26,3020)(3.29,2880)(3.32,2970)(3.35,3120)(3.38,2910)(3.41,3040)(3.44,2850)(3.47,2990)(3.50,2930)(3.53,3070)(3.56,2870)(3.59,3010)(3.62,2960)(3.65,2810)(3.68,3050)(3.71,2920)(3.74,3000)(3.77,3150)(3.80,2890)(3.83,2980)(3.86,3030)(3.89,2860)(3.92,3090)(3.95,2940)(3.98,3010)(4.01,2880)(4.04,3060)(4.07,2970)(4.10,2840)(4.13,3020)(4.16,2950)(4.19,3100)(4.22,2900)(4.25,2990)(4.28,2830)(4.31,3040)(4.34,2960)(4.37,3080)
(4.40,2920)(4.43,3010)(4.46,2870)(4.49,3060)(4.52,2950)(4.55,2990)(4.58,2830)(4.61,3040)(4.64,2910)(4.67,3000)(4.70,3110)(4.73,2880)(4.76,2970)(4.79,3030)(4.82,2850)(4.85,2940)(4.88,3080)(4.91,2900)(4.94,3020)(4.97,2960)(5.00,2810)(5.03,3050)(5.06,2930)(5.09,2990)(5.12,3000)(5.15,2870)(5.18,3070)(5.21,2950)(5.24,2910)(5.27,3030)(5.30,2840)(5.33,2980)(5.36,3100)(5.39,2920)(5.42,3010)(5.45,2860)(5.48,2960)(5.51,3050)(5.54,2890)(5.57,3000)(5.60,2940)(5.63,2820)(5.66,3080)(5.69,2970)(5.72,2900)(5.75,3020)(5.78,2860)(5.81,2990)(5.84,3060)(5.87,2930)(5.90,2980)(5.93,2880)(5.96,3040)(5.99,2950)(6.02,2840)(6.05,3010)(6.08,2920)(6.11,3090)(6.14,2970)(6.17,2870)(6.20,3030)(6.23,2940)(6.26,2990)(6.29,2830)(6.32,3060)(6.35,2910)(6.38,3000)(6.41,2960)(6.44,2880)(6.47,3120)(6.50,2950)(6.53,3020)(6.56,2860)(6.59,2990)(6.62,3070)(6.65,2920)(6.68,2980)(6.71,2850)(6.74,3040)(6.77,2940)(6.80,3000)(6.83,2890)(6.86,3080)(6.89,2960)(6.92,2830)(6.95,3020)(6.98,2930)(7.01,2990)(7.04,3050)(7.07,2870)(7.10,2950)(7.13,3010)(7.16,2900)(7.19,3090)(7.22,2970)(7.25,2840)(7.28,3030)(7.31,2920)(7.34,2980)(7.37,3060)(7.40,2880)(7.43,2950)(7.46,3010)(7.49,2860)(7.52,3100)(7.55,2940)(7.58,2990)(7.61,2900)(7.64,3040)(7.67,2830)(7.70,2970)(7.73,3020)(7.76,2910)(7.79,3080)(7.82,2960)(7.85,2870)(7.88,3000)(7.91,2940)(7.94,3050)(7.97,2890)(8.00,2980)(8.03,2850)(8.06,3030)(8.09,2930)(8.12,2990)(8.15,2880)(8.18,3060)(8.21,2950)(8.24,2910)(8.27,3010)
(4.45,2970)(4.60,2930)(4.78,2990)(4.95,3000)(5.08,2960)(5.13,2940)(5.19,2990)(5.26,2970)(5.38,3010)(5.52,2950)(5.68,2930)(5.80,2970)(5.88,3000)(5.92,2950)(6.00,2980)(6.10,3000)(6.22,2960)(6.36,2990)(6.45,2940)(6.52,2980)(6.63,2950)(6.72,3000)(6.85,2920)(6.97,2990)(7.05,2950)(7.15,2980)(7.20,3000)(7.27,2940)(7.33,2970)(7.45,2990)(7.57,2950)(7.68,3010)(7.78,2960)(7.90,2980)(8.05,2950)(8.20,2990)
(1.75,2990)(1.87,2930)(1.99,3040)(2.11,2890)(2.20,3000)(2.34,2940)(2.44,3060)(2.58,2910)(2.68,2990)(2.80,2870)(2.92,3010)(3.04,2950)(3.16,3050)(3.27,2900)(3.40,2980)(3.52,2920)(3.64,3030)(3.76,2950)(3.88,2990)(4.00,2930)(4.12,3050)(4.24,2960)(4.36,2880)(4.48,3000)(4.62,2960)(4.74,3030)(4.86,2920)(5.02,3010)(5.16,3030)(5.28,2900)(5.41,2960)(5.56,3040)(5.70,2890)(5.83,3020)(5.97,2990)(6.07,2950)(6.19,3040)(6.31,2900)(6.43,3010)(6.55,2930)(6.67,3040)(6.79,2960)(6.91,2900)(7.03,3020)(7.12,2940)(7.24,3000)(7.36,2900)(7.48,3040)(7.60,2960)(7.72,2900)(7.84,3030)(7.96,2950)(8.08,3000)(8.25,2940)
(1.83,2950)(1.91,3010)(1.99,2890)(2.07,3060)(2.15,2930)(2.23,2990)(2.31,2850)(2.39,3030)(2.47,2970)(2.55,2910)(2.63,3080)(2.71,2960)(2.79,2990)(2.87,2850)(2.95,3030)(3.03,2970)(3.11,2910)(3.19,3080)(3.27,2960)(3.35,2950)(3.43,3010)(3.51,2890)(3.59,3060)(3.67,2930)(3.75,2970)(3.83,2910)(3.91,3080)(3.99,2960)(4.07,2950)(4.15,3010)(4.23,2890)(4.31,3060)(4.39,2930)(4.47,2990)(4.55,2850)(4.63,3030)(4.71,2890)(4.79,3060)(4.87,2930)(4.95,2990)(5.03,2850)(5.11,3030)(5.19,2970)(5.27,2910)(5.35,3080)(5.43,2960)(5.51,2950)(5.59,3010)(5.67,3080)(5.75,2960)(5.83,2950)(5.91,3010)(5.99,2890)(6.07,3060)(6.15,2930)(6.23,2990)(6.31,2850)(6.39,3030)(6.47,2970)(6.55,2910)(6.63,2930)(6.71,2990)(6.79,2850)(6.87,3030)(6.95,2970)(7.03,2910)(7.11,3080)(7.19,2960)(7.27,2950)(7.35,3010)(7.43,2890)(7.51,3060)(7.59,3030)(7.67,2970)(7.75,2910)(7.83,3080)(7.91,2960)(7.99,2950)(8.07,3010)(8.15,2890)(8.23,3060)
(5.24,3213)(5.45,3213)(4.99,3180)(6.39,3157)(7.64,3165)(7.75,3165)(7.01,3127)(6.67,3135)
(8.30,2940)(8.34,3020)(8.38,2880)(8.42,2990)(8.46,3070)(8.50,2920)(8.54,3000)(8.58,2860)(8.62,2960)(8.66,3040)
(9.34,2950)(9.38,3010)(9.42,2890)(9.46,3060)(9.50,2970)(9.54,2920)(9.58,3030)(9.62,2870)(9.66,2990)(9.70,3080)(9.74,2940)(9.78,3000)(9.82,2900)(9.86,3050)(9.90,2960)(9.94,2880)(9.98,3020)(10.02,2950)(10.06,3000)
(10.64,2960)(10.68,2900)(10.72,3010)(10.76,2940)(10.80,2860)(10.84,2990)(10.88,3040)(10.92,2920)(10.96,2980)(11.00,2880)(11.04,3030)(11.08,2950)(11.12,2990)(11.16,2900)(11.20,3060)(11.24,2970)(11.28,2930)(11.32,3010)(11.36,2870)(11.40,2980)(11.44,2950)(11.48,3040)(11.52,2910)(11.56,2990)(11.60,2960)(11.64,2880)(11.68,3020)(11.72,2940)(11.76,3000)(11.80,2920)(11.84,3070)(11.88,2960)(11.92,2900)(11.96,3010)(11.99,2970)
(8.70,2990)(8.72,3060)(8.74,2920)(8.76,3110)(8.78,2870)(8.82,3140)(8.85,2840)(8.88,3160)(8.93,2820)(8.97,3150)(9.03,2830)(9.08,3140)(9.13,2840)(9.18,3110)(9.22,2870)(9.25,3050)(9.27,2950)(9.29,2900)(8.75,3020)(8.80,2950)(9.24,2990)(8.90,3120)(9.10,2860)(8.95,2800)(9.05,3180)
(8.78,3000)(8.80,3080)(8.83,2900)(8.86,3110)(8.90,2860)(8.96,3120)(9.00,2850)(9.06,3110)(9.12,2870)(9.16,3080)(9.20,2960)(9.21,3030)(8.87,2960)(8.92,3030)(9.14,2940)(9.02,2920)(8.98,3060)(8.76,2960)(9.26,3010)(9.19,2910)
(10.12,2980)(10.14,3060)(10.15,2900)(10.18,3140)(10.20,2850)(10.25,3180)(10.30,2830)(10.34,3200)(10.38,2810)(10.42,3170)(10.46,2830)(10.52,3130)(10.56,2850)(10.60,3060)(10.63,2960)(10.65,2880)(10.22,3010)(10.45,2930)(10.36,3230)(10.48,3100)(10.62,3010)(10.28,2950)
(10.16,3030)(10.18,2950)(10.21,3100)(10.24,2880)(10.28,3150)(10.32,2860)(10.38,3160)(10.43,2850)(10.48,3140)(10.53,2880)(10.57,3080)(10.58,2940)(10.20,3060)(10.30,3040)(10.44,2960)(10.52,3020)(10.35,2920)(10.60,2990)(10.40,3210)(10.13,3020)};
% outliers
\addplot[pts] coordinates {(0.58,755)(0.96,749)(1.00,785)(2.50,838)(2.47,920)(3.97,728)(3.15,906)(3.28,1001)(3.42,1036)(3.56,1060)(3.63,956)(3.59,912)(2.74,1040)(2.22,1044)(2.23,1000)(1.43,882)(1.54,1001)(1.65,1016)(1.79,956)(1.72,920)(1.35,987)(1.19,912)(1.03,897)(0.89,838)(0.78,838)(3.75,1125)(3.81,1185)(4.08,1180)(4.21,1111)(4.05,1342)(3.94,1252)(3.75,1252)(3.47,1252)(3.63,1252)(2.41,1150)(2.09,1134)(2.25,1060)
(4.51,903)(4.56,942)(4.61,963)(5.24,931)(4.51,1143)(4.65,1143)(4.71,1099)(4.74,1007)(4.87,1194)(5.04,1134)(5.57,1134)(5.86,1164)(6.46,1327)(6.63,1259)(6.81,1270)(7.05,1203)(7.16,1253)(7.32,1327)(7.52,1224)(7.68,1164)(7.87,1203)(8.07,1155)(8.12,1244)(7.59,1343)(7.68,1313)(5.49,1289)(5.78,1351)(6.08,1321)(6.18,1371)(4.46,1300)(4.54,1340)(4.60,1290)(4.83,1340)(4.91,1345)(5.04,1360)(5.15,1310)(5.45,1390)(5.59,1410)(5.74,1380)
(9.11,1069)(9.48,933)(9.57,850)(10.13,809)(10.60,1313)(10.60,1143)(10.80,1045)(10.91,1129)(11.21,942)(11.51,1007)(8.73,1298)(8.92,1298)(8.95,1298)(9.75,1259)(9.89,1276)(10.95,1330)(11.09,1350)(11.26,1370)(11.33,1340)(11.44,1330)(11.82,1390)(8.19,1253)(8.35,1490)(8.46,1490)(8.60,1446)(8.82,1490)(8.90,1421)(9.40,1430)(9.53,1450)(10.20,1480)(10.42,1460)(10.83,1490)(10.97,1540)(11.23,1400)(11.39,1380)(11.56,1440)(11.67,1420)(8.11,1134)
(8.92,2741)(8.98,2759)(8.79,2690)(8.98,2670)(9.06,2610)(9.17,2652)(10.50,2795)(10.94,2750)(10.91,2652)(11.14,2670)(11.35,2670)(11.42,2690)(11.49,2580)(10.88,2566)(11.10,2542)(11.64,2735)(11.95,2676)(11.86,2622)(8.27,2632)(8.38,2543)(8.84,2498)(9.17,2498)(9.33,2513)(9.44,2534)(9.89,2513)(10.02,2504)(10.50,2534)(10.66,2498)(10.79,2454)(10.91,2445)
(4.40,2713)(4.57,2670)(5.08,2771)(5.14,2771)(5.04,2661)(5.13,2676)(5.67,2720)(5.93,2759)(5.73,2617)(5.57,2543)(5.76,2522)(6.66,2780)(6.85,2640)(6.96,2572)(7.22,2699)(7.53,2699)(7.24,2572)(7.40,2543)(7.64,2557)(7.72,2498)(8.02,2572)(8.16,2572)(8.20,2498)};
\node[font=\daysfont\bfseries\fontsize{28}{28}\selectfont, text=dred, anchor=center] at (axis cs:7.85,4420) {40.08 days};
\end{axis}
\begin{axis}[
  scale only axis, width=524.25pt, height=379.5pt,
  xmin=0.58, xmax=12, ymin=500, ymax=5000,
  xtick=\empty,
  ytick={500,1000,...,5000}, minor ytick={600,700,...,4900},
  tick align=inside, tick pos=both,
  major tick length=16.5pt, minor tick length=9pt,
  every tick/.style={black, line width=0.6pt},
  axis line style={line width=0.8pt},
  /pgf/number format/assume math mode=true,
  /pgf/number format/1000 sep={},
  scaled ticks=false,
  yticklabel style={font=\tickfont\bfseries\fontsize{15.5}{15.5}\selectfont, anchor=east, inner sep=1pt, xshift=-2pt},
  ylabel={\scalebox{1}[1.3]{\ylabfont\bfseries\fontsize{22}{22}\selectfont w\textsubscript{par} (arb.)}},
  ylabel style={at={(axis description cs:-0.1116,1.0296)}, anchor=east, inner sep=0pt},
]
\end{axis}
\pgfresetboundingbox
\path[use as bounding box] ([xshift=-79.5pt,yshift=-52.5pt]current axis.south west) rectangle ([xshift=10.5pt,yshift=12.75pt]current axis.north east);
\end{tikzpicture}
\end{document}
